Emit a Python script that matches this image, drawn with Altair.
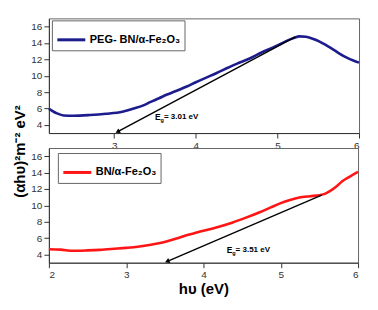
import altair as alt
import pandas as pd

# ---- data ----
top_name = "PEG- BN/α-Fe₂O₃"
top_x = [2.2, 2.3, 2.38, 2.5, 2.7, 2.9, 3.1, 3.24, 3.35, 3.44, 3.55, 3.64, 3.75, 3.89, 4.0,
         4.1, 4.25, 4.4, 4.5, 4.66, 4.8, 4.98, 5.1, 5.2, 5.27, 5.35, 5.45, 5.51, 5.6, 5.7,
         5.76, 5.85, 5.93, 6.0]
top_y = [5.96, 5.4, 5.15, 5.12, 5.2, 5.35, 5.6, 6.0, 6.35, 6.77, 7.25, 7.67, 8.1, 8.68, 9.2,
         9.65, 10.3, 11.0, 11.45, 12.1, 12.8, 13.6, 14.2, 14.6, 14.8, 14.75, 14.45, 14.2, 13.7, 13.1,
         12.7, 12.2, 11.85, 11.6]

bot_name = "BN/α-Fe₂O₃"
bot_x = [2.0, 2.15, 2.31, 2.5, 2.66, 2.85, 3.0, 3.15, 3.3, 3.42, 3.52, 3.65, 3.78, 3.9, 4.0,
         4.2, 4.38, 4.55, 4.72, 4.87, 5.0, 5.12, 5.24, 5.38, 5.5, 5.57, 5.63, 5.72, 5.8, 5.9, 6.0]
bot_y = [4.64, 4.6, 4.45, 4.5, 4.57, 4.7, 4.81, 4.95, 5.17, 5.38, 5.6, 5.95, 6.34, 6.65, 6.9,
         7.4, 7.92, 8.5, 9.13, 9.75, 10.27, 10.65, 10.95, 11.12, 11.24, 11.4, 11.7, 12.3, 12.97, 13.55, 14.1]

top_tan_x = [3.05, 5.22]
top_tan_y = [3.2, 14.75]
bot_tan_x = [3.54, 5.53]
bot_tan_y = [3.2, 11.25]

top_label = {"x": 3.50, "y": 4.9, "val": "= 3.01 eV"}
bot_label = {"x": 4.30, "y": 4.6, "val": "= 3.51 eV"}

y_ticks = [4, 6, 8, 10, 12, 14, 16]
top_xticks = [3, 4, 5, 6]
bot_xticks = [2, 3, 4, 5, 6]

FONT = "Liberation Sans"


def panel(xs, ys, name, color, tan_x, tan_y, label, xdomain, xticks, width,
          arrow_angle, legend_x, legend_y, top):
    df = pd.DataFrame({"x": xs, "y": ys, "series": name})
    tan = pd.DataFrame({"x": tan_x, "y": tan_y})
    tip = tan.iloc[[0]]
    lab = pd.DataFrame([label])

    if top:
        xaxis = alt.Axis(values=xticks, title=None, grid=False, format="d",
                         labelOverlap=False)
        yaxis = alt.Axis(values=y_ticks, tickCount=len(y_ticks), grid=False,
                         title="(αhυ)²m⁻² eV²",
                         format="d", labelOverlap=False,
                         titleX=-29, titleY=133, titleAngle=270,
                         titleAlign="center", titleBaseline="middle")
    else:
        xaxis = alt.Axis(values=xticks, title="hυ (eV)", grid=False, format="d",
                         labelOverlap=False)
        yaxis = alt.Axis(values=y_ticks, tickCount=len(y_ticks), grid=False,
                         title=None, format="d", labelOverlap=False)

    xs_ = alt.Scale(domain=xdomain, nice=False, zero=False)
    ys_ = alt.Scale(domain=[3, 17], nice=False, zero=False)

    line = alt.Chart(df).mark_line(strokeWidth=2.6, interpolate="monotone").encode(
        x=alt.X("x:Q", scale=xs_, axis=xaxis),
        y=alt.Y("y:Q", scale=ys_, axis=yaxis),
        color=alt.Color("series:N",
                        scale=alt.Scale(domain=[name], range=[color]),
                        legend=alt.Legend(title=None, orient="none",
                                          legendX=legend_x, legendY=legend_y,
                                          symbolType="stroke", symbolSize=784,
                                          symbolStrokeWidth=3,
                                          labelFont=FONT, labelFontSize=11,
                                          labelFontWeight="bold", labelColor="black",
                                          labelOffset=3,
                                          padding=4, strokeColor="#666",
                                          fillColor="white")),
    )
    tline = alt.Chart(tan).mark_line(color="black", strokeWidth=1.4).encode(
        x=alt.X("x:Q", scale=xs_, axis=xaxis), y=alt.Y("y:Q", scale=ys_, axis=yaxis))
    head = alt.Chart(tip).mark_point(shape="triangle", filled=True, color="black",
                                     size=28, angle=arrow_angle, opacity=1).encode(
        x=alt.X("x:Q", scale=xs_, axis=xaxis), y=alt.Y("y:Q", scale=ys_, axis=yaxis))
    e = alt.Chart(lab).mark_text(text="E", align="left", baseline="middle",
                                 font=FONT, fontSize=8.5, fontWeight="bold",
                                 color="black").encode(
        x=alt.X("x:Q", scale=xs_, axis=xaxis), y=alt.Y("y:Q", scale=ys_, axis=yaxis))
    g = alt.Chart(lab).mark_text(text="g", align="left", baseline="middle",
                                 font=FONT, fontSize=5.5, fontWeight="bold",
                                 color="black", dx=5.5, dy=3).encode(
        x=alt.X("x:Q", scale=xs_, axis=xaxis), y=alt.Y("y:Q", scale=ys_, axis=yaxis))
    v = alt.Chart(lab).mark_text(align="left", baseline="middle",
                                 font=FONT, fontSize=8, fontWeight="bold",
                                 color="black", dx=9).encode(
        x=alt.X("x:Q", scale=xs_, axis=xaxis), y=alt.Y("y:Q", scale=ys_, axis=yaxis),
        text="val:N")
    return alt.layer(line, tline, head, e, g, v).properties(width=width, height=115)


top = panel(top_x, top_y, top_name, "#1c1c8c", top_tan_x, top_tan_y, top_label,
            [2.2, 6], top_xticks, 311, 242, 3, 2, True)
bot = panel(bot_x, bot_y, bot_name, "#ff1515", bot_tan_x, bot_tan_y, bot_label,
            [2, 6], bot_xticks, 310, 247, 9, 5, False)

chart = alt.vconcat(top, bot, spacing=15, bounds="flush").resolve_scale(
    color="independent").resolve_legend(color="independent").properties(
    padding={"left": 4, "top": 9, "right": 5, "bottom": 5}
).configure_view(stroke="#666", strokeWidth=1).configure_axis(
    domainColor="#333", tickColor="#333", tickSize=5, labelPadding=2,
    labelFont=FONT, labelFontSize=10, labelColor="#333", labelOverlap=False,
    titleFont=FONT, titleFontSize=15, titleFontWeight="bold", titleColor="black",
    titlePadding=2,
)

chart.save("out.html", embed_options={"renderer": "svg", "actions": False})
